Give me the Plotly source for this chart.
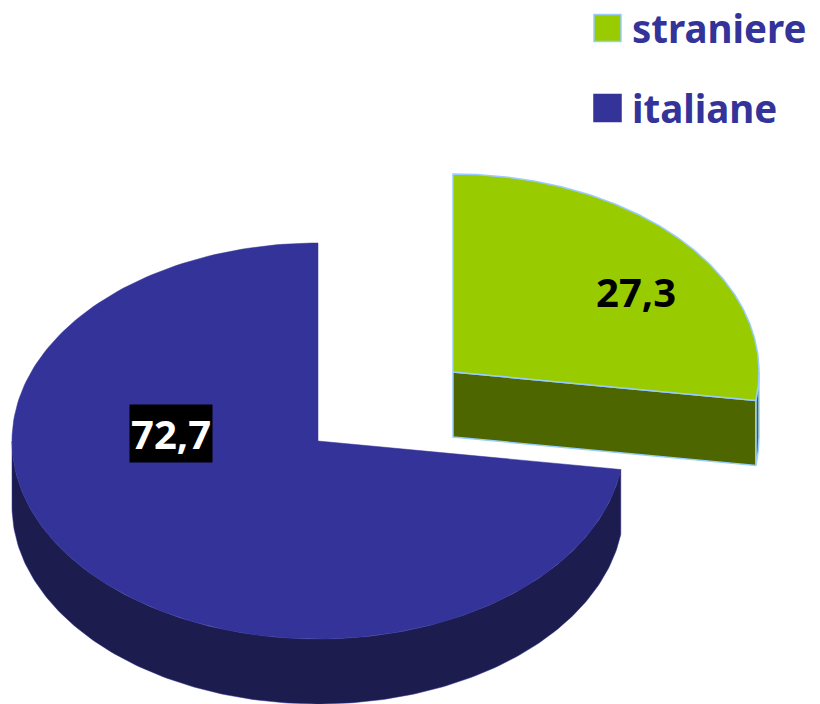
import numpy as np
import plotly.graph_objects as go

# ---- data ----
categories = ["straniere", "italiane"]
values = [27.3, 72.7]
top_colors = ["#99cc00", "#333399"]
side_colors = ["#4d6600", "#1c1c4e"]
outline_colors = ["#99ccff", "#333399"]
exploded = [True, False]

# ---- layout constants (pixels of the browser window) ----
W, H = 820, 704
CX, CY = 318, 441          # centre of the (non exploded) pie top face
RX, RY = 306, 198          # ellipse radii
DEPTH = 65                 # thickness of the pie
EXPLODE = (135, -69)       # shift of exploded slice
START = 90.0               # first slice starts at 12 o'clock, going clockwise

total = sum(values)
fig = go.Figure()


def pt(cx, cy, a, dy=0.0):
    r = np.radians(a)
    return cx + RX * np.cos(r), cy - RY * np.sin(r) + dy


def arc(cx, cy, a0, a1, dy=0.0, n=200):
    angs = np.linspace(a0, a1, n)
    xs = cx + RX * np.cos(np.radians(angs))
    ys = cy - RY * np.sin(np.radians(angs)) + dy
    return list(xs), list(ys)


def add_poly(xs, ys, fill, line, lw):
    fig.add_trace(go.Scatter(
        x=list(xs) + [xs[0]], y=list(ys) + [ys[0]], mode="lines",
        fill="toself", fillcolor=fill,
        line=dict(color=line, width=lw), hoverinfo="skip", showlegend=False))


# compute slice angles (clockwise from START); store as CCW spans [a0, a1]
slices = []
cur = START
for i, v in enumerate(values):
    sweep = 360.0 * v / total
    a1 = cur
    a0 = cur - sweep
    slices.append((i, a0, a1))
    cur = a0

labels_pos = {}
order = sorted(slices, key=lambda s: 0 if exploded[s[0]] else 1)
for i, a0, a1 in order:
    cx, cy = CX, CY
    if exploded[i]:
        cx, cy = CX + EXPLODE[0], CY + EXPLODE[1]
    lw = 1.5 if exploded[i] else 0.5
    shift = np.floor(a0 / 360.0) * 360.0
    b0, b1 = a0 - shift, a1 - shift
    # visible outer wall: lower half of ellipse
    for lo, hi in [(180, 360), (540, 720)]:
        s, e = max(b0, lo), min(b1, hi)
        if e > s:
            tx, ty = arc(cx, cy, s, e)
            bx, by = arc(cx, cy, s, e, DEPTH)
            add_poly(tx + bx[::-1], ty + by[::-1], side_colors[i], outline_colors[i], lw)
    # radial faces facing the viewer
    if np.cos(np.radians(a0)) > 1e-6:
        ex, ey = pt(cx, cy, a0)
        add_poly([cx, ex, ex, cx], [cy, ey, ey + DEPTH, cy + DEPTH],
                 side_colors[i], outline_colors[i], lw)
    if np.cos(np.radians(a1)) < -1e-6:
        ex, ey = pt(cx, cy, a1)
        add_poly([cx, ex, ex, cx], [cy, ey, ey + DEPTH, cy + DEPTH],
                 side_colors[i], outline_colors[i], lw)
    # top face
    tx, ty = arc(cx, cy, a0, a1)
    add_poly([cx] + tx, [cy] + ty, top_colors[i], outline_colors[i], lw)
    labels_pos[i] = (cx, cy)

# value labels
fmt = lambda v: f"{v:.1f}".replace(".", ",")
gx, gy = labels_pos[0]
fig.add_annotation(x=gx + 183, y=gy - 81, text=f"<b>{fmt(values[0])}</b>",
                   showarrow=False, font=dict(family="Noto Sans", size=40, color="black"))
bx_, by_ = labels_pos[1]
fig.add_annotation(x=bx_ - 147, y=by_ - 8, text=f"<b>{fmt(values[1])}</b>",
                   showarrow=False, bgcolor="black", borderpad=1,
                   font=dict(family="Noto Sans", size=40, color="white"))

# manual legend
leg_y = [28, 108]
for k, i in enumerate([0, 1]):
    yc = leg_y[k]
    fig.add_shape(type="rect", xref="x", yref="y", x0=594, x1=621,
                  y0=yc - 13.5, y1=yc + 13.5, fillcolor=top_colors[i],
                  line=dict(color="#99ccff" if i == 0 else top_colors[i], width=1.5))
    fig.add_annotation(x=630, y=yc, xanchor="left", yanchor="middle",
                       text=f"<b>{categories[i]}</b>", showarrow=False,
                       font=dict(family="Noto Sans", size=38.5, color="#333399"))

fig.update_layout(
    width=W, height=H, margin=dict(l=0, r=0, t=0, b=0),
    paper_bgcolor="white", plot_bgcolor="white", showlegend=False,
    xaxis=dict(range=[0, W], visible=False, fixedrange=True),
    yaxis=dict(range=[H, 0], visible=False, fixedrange=True),
)
fig.write_html("out.html", config={"displayModeBar": False},
               post_script="document.body.style.margin='0';document.body.style.overflow='hidden';")
